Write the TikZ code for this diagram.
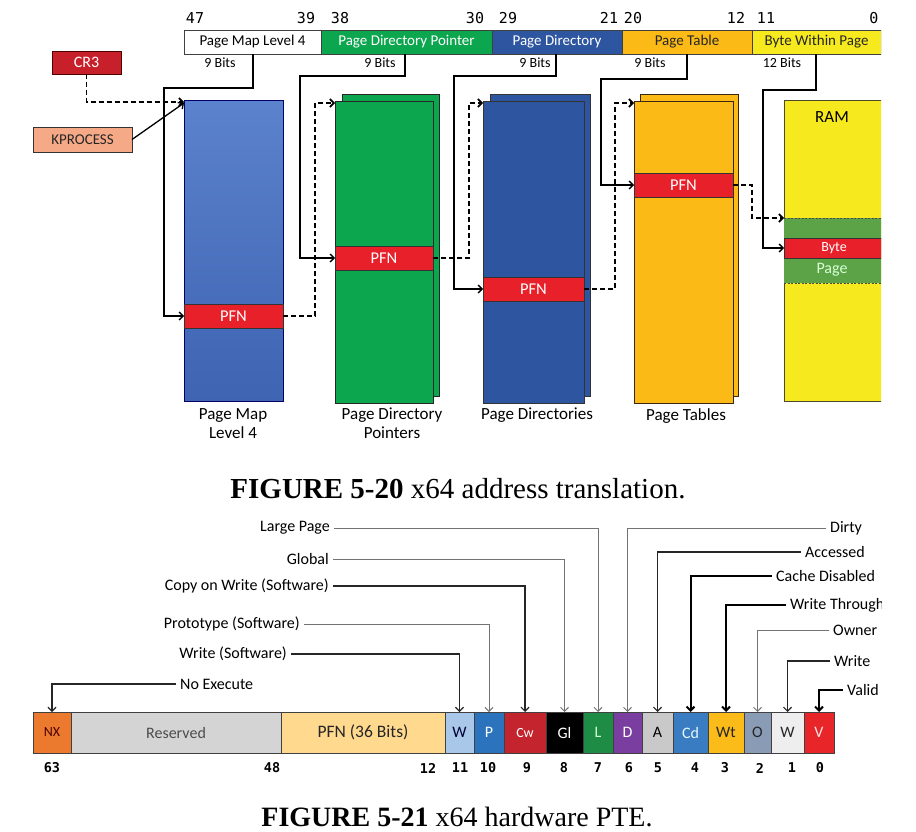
\documentclass[tikz,border=0pt]{standalone}
\usepackage{fontspec}
\setmainfont{Carlito}
\newfontfamily\monof{DejaVu Sans Mono}
\newfontfamily\capfont{Liberation Serif}
\usetikzlibrary{arrows.meta}
\definecolor{cGreen}{HTML}{0BA64E}
\definecolor{cBlueD}{HTML}{2D55A0}
\definecolor{cPmlTop}{HTML}{5B82CC}
\definecolor{cPmlBot}{HTML}{3E64B2}
\definecolor{cOrange}{HTML}{FBBA16}
\definecolor{cYellow}{HTML}{F6EA1E}
\definecolor{cRed}{HTML}{E8202A}
\definecolor{cCR}{HTML}{C8202A}
\definecolor{cKP}{HTML}{F6A987}
\definecolor{cBand}{HTML}{5BA346}
\definecolor{cNX}{HTML}{EC7A2E}
\definecolor{cRes}{HTML}{D4D4D4}
\definecolor{cPFN}{HTML}{FED98E}
\definecolor{cW}{HTML}{A9C7E8}
\definecolor{cP}{HTML}{2B74BD}
\definecolor{cCw}{HTML}{C3242D}
\definecolor{cL}{HTML}{1E8C45}
\definecolor{cD}{HTML}{7A3EA0}
\definecolor{cA}{HTML}{C9C9C9}
\definecolor{cCd}{HTML}{3A7CC2}
\definecolor{cWt}{HTML}{FBBB18}
\definecolor{cO}{HTML}{8A9BB5}
\definecolor{cW1}{HTML}{EEEEEE}
\definecolor{cV}{HTML}{E8262A}
\begin{document}
\begin{tikzpicture}[x=1pt,y=-1pt,
  cell/.style={draw=black!75, line width=0.8pt, inner sep=0pt, outer sep=0pt, anchor=north west},
  bar/.style={cell, minimum height=24pt, font=\fontsize{15}{16}\selectfont},
  bitn/.style={inner sep=0pt, font=\monof\fontsize{15}{15}\selectfont},
  bits/.style={inner sep=0pt, font=\fontsize{14}{14}\selectfont},
  tbl/.style={cell, line width=1pt},
  pfnbox/.style={cell, fill=cRed, draw=black!80, minimum height=24pt, text=white, font=\fontsize{16.5}{16.5}\selectfont},
  tlab/.style={inner sep=0pt, align=center, anchor=north, font=\fontsize{17}{19}\selectfont},
  tip/.style={-{Straight Barb[length=4pt,width=8pt]}},
  dasharr/.style={tip, line width=1.6pt, dash pattern=on 5pt off 3pt},
  brk/.style={tip, line width=1.3pt},
  pcell/.style={cell, minimum height=41pt, font=\fontsize{16}{16}\selectfont},
  pnum/.style={inner sep=0pt, font=\monof\bfseries\fontsize{13.5}{13.5}\selectfont},
  plab/.style={inner sep=4pt, font=\fontsize{16}{16}\selectfont},
  thinarr/.style={tip, line width=1pt, draw=black!55},
  blkarr/.style={tip, line width=1.2pt, draw=black!85},
  thkarr/.style={tip, line width=2pt, draw=black},
  capt/.style={inner sep=0pt, anchor=base, font=\capfont\fontsize{29}{29}\selectfont}
]
\useasboundingbox (0,0) rectangle (916,832);
\fill[white] (0,0) rectangle (916,832);
\begin{scope}
\clip (0,0) rectangle (881,832);
% ---- top address bar
\node[bar, fill=white, text=black] (b47) at (184,30) [minimum width=137pt] {Page Map Level 4};
\node[bar, fill=cGreen, text=white] (b38) at (321,30) [minimum width=171pt] {Page Directory Pointer};
\node[bar, fill=cBlueD, text=white] (b29) at (492,30) [minimum width=130pt] {Page Directory};
\node[bar, fill=cOrange, text=black!85] (b20) at (622,30) [minimum width=130pt] {Page Table};
\node[bar, fill=cYellow, text=black!85] (b11) at (752,30) [minimum width=129pt] {Byte Within Page};
\node[bitn] (k47) at (195,18) {47};
\node[bitn] (k39) at (306,18) {39};
\node[bitn] (k38) at (340,18) {38};
\node[bitn] (k30) at (475,18) {30};
\node[bitn] (k29) at (508,18) {29};
\node[bitn] (k21) at (609,18) {21};
\node[bitn] (k20) at (633,18) {20};
\node[bitn] (k12) at (736,18) {12};
\node[bitn] (k11) at (766,18) {11};
\node[bitn] (k0) at (874,18) {0};
\node[bits] (s47) at (220,63) {9 Bits};
\node[bits] (s38) at (380,63) {9 Bits};
\node[bits] (s29) at (535,63) {9 Bits};
\node[bits] (s20) at (650,63) {9 Bits};
\node[bits] (s11) at (782,63) {12 Bits};
% ---- CR3 / KPROCESS
\node[cell, fill=cCR, draw=black!70!red, text=white, minimum width=69pt, minimum height=23pt, font=\fontsize{16}{16}\selectfont] (cr3) at (52,51) {CR3};
\node[cell, fill=cKP, draw=black!80, text=black!85, minimum width=99pt, minimum height=25pt, font=\fontsize{15}{15}\selectfont] (kp) at (33,127) {KPROCESS};
% ---- tables
\node[tbl, top color=cPmlTop, bottom color=cPmlBot, draw=black!60!blue, minimum width=99pt, minimum height=300pt] (pml4) at (184,101) {};
\node[pfnbox, minimum width=99pt] (pfn1) at (184,304) {PFN};
\node[tbl, fill=cGreen, draw=black!85, minimum width=97pt, minimum height=301pt] (pdpb) at (342,95) {};
\node[tbl, fill=cGreen, draw=black!85, minimum width=98pt, minimum height=301pt] (pdpf) at (335,102) {};
\node[pfnbox, minimum width=98pt] (pfn2) at (335,246) {PFN};
\node[tbl, fill=cBlueD, draw=black!80, minimum width=100pt, minimum height=301pt] (pdb) at (490,95) {};
\node[tbl, fill=cBlueD, draw=black!80, minimum width=101pt, minimum height=301pt] (pdf) at (483,102) {};
\node[pfnbox, minimum width=101pt] (pfn3) at (483,277) {PFN};
\node[tbl, fill=cOrange, draw=black!70!brown, minimum width=98pt, minimum height=301pt] (ptb) at (640,95) {};
\node[tbl, fill=cOrange, draw=black!70!brown, minimum width=99pt, minimum height=301pt] (ptf) at (634,102) {};
\node[pfnbox, minimum width=99pt] (pfn4) at (634,173) {PFN};
\node[tbl, fill=cYellow, draw=black!60!olive, minimum width=100pt, minimum height=300pt] (ram) at (784,101) {};
\node[cell, fill=cBand, draw=none, minimum width=100pt, minimum height=65pt] (band) at (784,218) {};
\draw[black!70, line width=0.8pt, dash pattern=on 2pt off 1.5pt] (band.north west) -- (band.north east);
\draw[black!70, line width=0.8pt, dash pattern=on 2pt off 1.5pt] (band.south west) -- (band.south east);
\node[pfnbox, minimum width=100pt, minimum height=20pt, font=\fontsize{14}{14}\selectfont] (byte) at (784,238) {Byte};
\node[inner sep=0pt, text=white!85!green, font=\fontsize{16}{16}\selectfont] (pagetxt) at (832,270) {Page};
\node[inner sep=0pt, font=\fontsize{17}{17}\selectfont] (ramtxt) at (832,117) {RAM};
\node[tlab] (lpml) at (233,408) {Page Map\\Level 4};
\node[tlab] (lpdp) at (392,408) {Page Directory\\Pointers};
\node[tlab] (lpd) at (537,408) {Page Directories};
\node[tlab] (lpt) at (686,408) {Page Tables};
% ---- connectors (upper)
\draw[dasharr] (cr3.south) |- ([yshift=-1pt]pml4.north west);
\draw[brk] (kp.east) -- ([yshift=-2pt]pml4.north west);
\draw[dasharr] (pfn1.east) -- ++(32,0) |- ([yshift=-1pt]pdpf.north west);
\draw[dasharr] (pfn2.east) -- ++(36,0) |- ([yshift=-1pt]pdf.north west);
\draw[dasharr] (pfn3.east) -- ++(31,0) |- ([yshift=-1pt]ptf.north west);
\draw[dasharr] (pfn4.east) -- ++(19,0) |- (band.north west);
\draw[brk] ([xshift=69pt]b47.south west) |- ++(-89,34) |- (pfn1.west);
\draw[brk] ([xshift=84pt]b38.south west) |- ++(-105,22) |- (pfn2.west);
\draw[brk] ([xshift=64pt]b29.south west) |- ++(-102,22) |- (pfn3.west);
\draw[brk] ([xshift=65pt]b20.south west) |- ++(-86,25) |- (pfn4.west);
\draw[brk] ([xshift=64pt]b11.south west) |- ++(-53,36) |- (byte.west);
% ---- PTE bar
\node[pcell, fill=cNX, text=black!70!red, minimum width=38pt, font=\fontsize{14}{14}\selectfont] (nx) at (33,712) {NX};
\node[pcell, fill=cRes, text=black!70, minimum width=210pt] (res) at (71,712) {Reserved};
\node[pcell, fill=cPFN, text=black!85, minimum width=164pt, font=\fontsize{17.5}{17.5}\selectfont] (pfnp) at (281,712) {PFN (36 Bits)};
\node[pcell, fill=cW, text=black!80!blue, minimum width=29pt] (w11) at (445,712) {W};
\node[pcell, fill=cP, text=white, minimum width=30pt] (p10) at (474,712) {P};
\node[pcell, fill=cCw, text=white, minimum width=42pt, font=\fontsize{14}{14}\selectfont] (cw9) at (504,712) {Cw};
\node[pcell, fill=black, text=white, minimum width=37pt] (gl8) at (546,712) {Gl};
\node[pcell, fill=cL, text=white!80!green, minimum width=30pt] (l7) at (583,712) {L};
\node[pcell, fill=cD, text=white, minimum width=29pt] (d6) at (613,712) {D};
\node[pcell, fill=cA, text=black, minimum width=31pt] (a5) at (642,712) {A};
\node[pcell, fill=cCd, text=white!90!cyan, minimum width=35pt] (cd4) at (673,712) {Cd};
\node[pcell, fill=cWt, text=black!85, minimum width=36pt] (wt3) at (708,712) {Wt};
\node[pcell, fill=cO, text=black!85, minimum width=27pt] (o2) at (744,712) {O};
\node[pcell, fill=cW1, text=black!85, minimum width=33pt] (w1) at (771,712) {W};
\node[pcell, fill=cV, text=white!90!red, minimum width=30pt] (v0) at (804,712) {V};
\node[pnum] (q63) at (52,768) {63};
\node[pnum] (q48) at (272,768) {48};
\node[pnum] (q12) at (428,768) {12};
\node[pnum] (q11) at (460,768) {11};
\node[pnum] (q10) at (488,768) {10};
\node[pnum] (q9) at (527,768) {9};
\node[pnum] (q8) at (564,768) {8};
\node[pnum] (q7) at (598,768) {7};
\node[pnum] (q6) at (629,768) {6};
\node[pnum] (q5) at (658,768) {5};
\node[pnum] (q4) at (695,768) {4};
\node[pnum] (q3) at (725,768) {3};
\node[pnum] (q2) at (760,768) {2};
\node[pnum] (q1) at (792,768) {1};
\node[pnum] (q0) at (820,768) {0};
% ---- PTE labels
\node[plab, anchor=east] (tLP) at (334,528) {Large Page};
\node[plab, anchor=east] (tGl) at (333,559) {Global};
\node[plab, anchor=east] (tCoW) at (333,586) {Copy on Write (Software)};
\node[plab, anchor=east] (tPro) at (304,624) {Prototype (Software)};
\node[plab, anchor=east] (tWS) at (291,654) {Write (Software)};
\node[plab, anchor=west] (tNX) at (176,684) {No Execute};
\node[plab, anchor=west] (tDi) at (826,528) {Dirty};
\node[plab, anchor=west] (tAc) at (801,552) {Accessed};
\node[plab, anchor=west] (tCD) at (772,576) {Cache Disabled};
\node[plab, anchor=west] (tWT) at (786,605) {Write Through};
\node[plab, anchor=west] (tOw) at (829,630) {Owner};
\node[plab, anchor=west] (tWr) at (830,661) {Write};
\node[plab, anchor=west] (tVa) at (843,690) {Valid};
\draw[thinarr] (tLP.east) -| (l7.north);
\draw[thinarr] (tGl.east) -| (gl8.north);
\draw[blkarr] (tCoW.east) -| (cw9.north);
\draw[thinarr] (tPro.east) -| (p10.north);
\draw[blkarr] (tWS.east) -| (w11.north);
\draw[blkarr] (tNX.west) -| (nx.north);
\draw[thinarr] (tDi.west) -| (d6.north);
\draw[blkarr] (tAc.west) -| (a5.north);
\draw[thkarr] (tCD.west) -| (cd4.north);
\draw[thkarr] (tWT.west) -| (wt3.north);
\draw[thinarr] (tOw.west) -| (o2.north);
\draw[blkarr] (tWr.west) -| (w1.north);
\draw[thkarr] (tVa.west) -| (v0.north);
\end{scope}
% ---- captions
\node[capt] (cap1) at (458,498) {\textbf{FIGURE 5-20} x64 address translation.};
\node[capt, font=\capfont\fontsize{28}{28}\selectfont] (cap2) at (457,826) {\textbf{FIGURE 5-21} x64 hardware PTE.};
\end{tikzpicture}
\end{document}
